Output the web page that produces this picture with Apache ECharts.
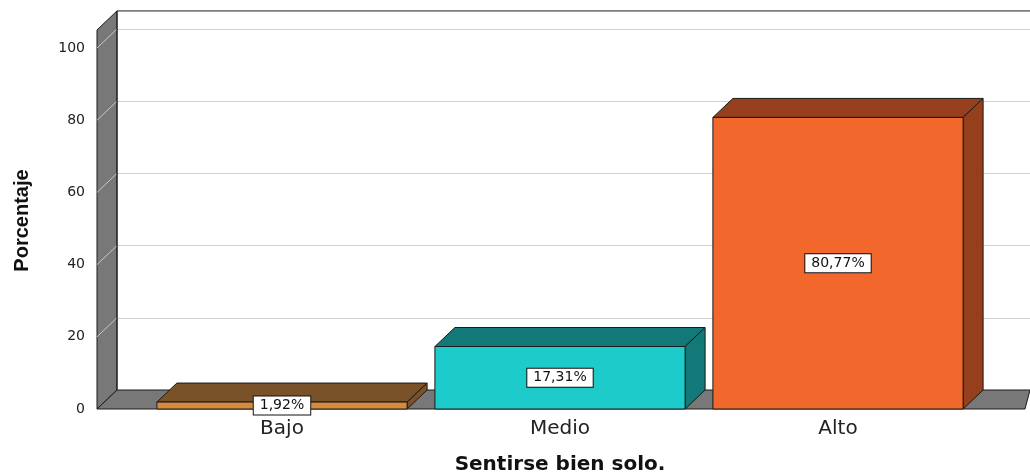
<!DOCTYPE html>
<html><head><meta charset="utf-8">
<script src="https://cdn.jsdelivr.net/npm/echarts@6/dist/echarts.min.js"></script>
<style>html,body{margin:0;padding:0;background:#fff}#c{width:1030px;height:474px}</style>
</head><body><div id="c"></div>
<script>
// ---- data ----
const categories = ['Bajo', 'Medio', 'Alto'];
const values = [1.92, 17.31, 80.77];
const valueLabels = ['1,92%', '17,31%', '80,77%'];
const yTicks = [0, 20, 40, 60, 80, 100];
const yTitle = 'Porcentaje';
const xTitle = 'Sentirse bien solo.';

// ---- style ----
const frontColors = ['#D68A3E', '#1DCBCB', '#F2672B'];
const shadeColors = ['#7A5229', '#127878', '#953F1C'];
const DX = 20, DY = -19;          // 3D depth offset (pixels)
const WALL_TOP = 105;             // wall extends slightly above last tick
const WALL = '#787878', EDGE = '#1a1a1a';

const chart = echarts.init(document.getElementById('c'), null, {renderer: 'canvas'});

function wallItem(params, api) {
  const cs = params.coordSys;
  const x0 = cs.x, x1 = cs.x + cs.width;
  const y0 = api.coord([0, 0])[1];
  const yt = api.coord([0, WALL_TOP])[1];
  const children = [];
  children.push({type: 'polygon', shape: {points: [[x0, y0], [x0, yt], [x0 + DX, yt + DY], [x0 + DX, y0 + DY]]},
    style: {fill: WALL, stroke: EDGE, lineWidth: 1}});
  children.push({type: 'polygon', shape: {points: [[x0, y0], [x1, y0], [x1 + 5, y0 + DY], [x0 + DX, y0 + DY]]},
    style: {fill: WALL, stroke: EDGE, lineWidth: 1}});
  yTicks.forEach(t => {
    if (t === 0) return;
    const y = api.coord([0, t])[1];
    children.push({type: 'line', shape: {x1: x0, y1: y, x2: x0 + DX, y2: y + DY},
      style: {stroke: '#c8c8c8', lineWidth: 1}});
  });
  children.push({type: 'line', shape: {x1: x0 + DX, y1: yt + DY, x2: x1 + 10, y2: yt + DY},
    style: {stroke: EDGE, lineWidth: 1}});
  children.push({type: 'line', shape: {x1: x0 + DX, y1: yt + DY, x2: x0 + DX, y2: y0 + DY},
    style: {stroke: EDGE, lineWidth: 1}});
  return {type: 'group', children};
}

function barItem(params, api) {
  const i = api.value(0), v = api.value(1);
  const top = api.coord([i, v]);
  const base = api.coord([i, 0]);
  const w = api.size([1, 0])[0] * 0.9;
  const xa = top[0] - w / 2, xb = top[0] + w / 2;
  const yt = top[1], yb = base[1];
  const st = (fill) => ({fill, stroke: EDGE, lineWidth: 1});
  return {type: 'group', children: [
    {type: 'polygon', shape: {points: [[xa, yt], [xb, yt], [xb + DX, yt + DY], [xa + DX, yt + DY]]}, style: st(shadeColors[i])},
    {type: 'polygon', shape: {points: [[xb, yt], [xb + DX, yt + DY], [xb + DX, yb + DY], [xb, yb]]}, style: st(shadeColors[i])},
    {type: 'rect', shape: {x: xa, y: yt, width: w, height: yb - yt}, style: st(frontColors[i])},
    {type: 'text', z2: 10, style: {
      text: valueLabels[i], x: top[0], y: (yt + yb) / 2,
      align: 'center', verticalAlign: 'middle', textAlign: 'center', textVerticalAlign: 'middle',
      font: '14px "DejaVu Sans"', fill: '#111',
      backgroundColor: '#fff', borderColor: '#111', borderWidth: 1, padding: [2, 6]
    }}
  ]};
}

const option = {
  backgroundColor: '#fff',
  animation: false,
  grid: [
    {left: 97, right: 5, top: 48, bottom: 65, outerBoundsMode: 'none', containLabel: false},
    {left: 117, right: 0, top: 29, bottom: 84, outerBoundsMode: 'none', containLabel: false},
    {left: 143, right: 53, top: 48, bottom: 65, outerBoundsMode: 'none', containLabel: false}
  ],
  xAxis: [
    {gridIndex: 0, type: 'category', data: [''], show: false},
    {gridIndex: 1, type: 'category', data: [''], show: false},
    {gridIndex: 2, type: 'category', data: categories,
      axisLine: {show: false}, axisTick: {show: false},
      axisLabel: {margin: 10, color: '#222', fontSize: 20, fontFamily: 'DejaVu Sans'},
      name: xTitle, nameLocation: 'middle', nameGap: 46,
      nameTextStyle: {color: '#111', fontSize: 20, fontWeight: 'bold', fontFamily: 'DejaVu Sans'}}
  ],
  yAxis: [
    {gridIndex: 0, type: 'value', min: 0, max: 100, interval: 20,
      axisLine: {show: false}, axisTick: {show: false}, splitLine: {show: false},
      axisLabel: {margin: 12, color: '#222', fontSize: 14, fontFamily: 'DejaVu Sans'},
      name: yTitle, nameLocation: 'middle', nameGap: 65, nameRotate: 90,
      nameTextStyle: {color: '#111', fontSize: 20, fontWeight: 'bold', fontFamily: 'Liberation Sans', padding: [0, 0, 0, 16]}},
    {gridIndex: 1, type: 'value', min: 0, max: 100, interval: 20,
      axisLine: {show: false}, axisTick: {show: false}, axisLabel: {show: false},
      splitLine: {show: true, lineStyle: {color: '#cfcfcf', width: 1}}},
    {gridIndex: 2, type: 'value', min: 0, max: 100, interval: 20, show: false}
  ],
  series: [
    {type: 'custom', name: 'wall', xAxisIndex: 0, yAxisIndex: 0, z: 1, silent: true,
      renderItem: wallItem, data: [[0, 0]], clip: false},
    {type: 'custom', name: 'Porcentaje', xAxisIndex: 2, yAxisIndex: 2, z: 3,
      renderItem: barItem, data: values.map((v, i) => [i, v]), clip: false}
  ]
};
chart.setOption(option);
</script>
</body></html>
